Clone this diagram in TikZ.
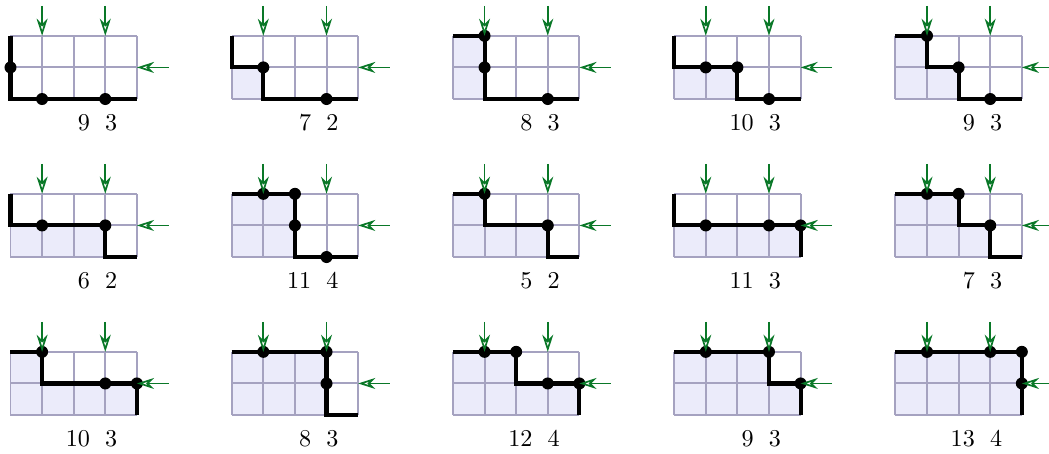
\documentclass[tikz,border=0pt]{standalone}
\usetikzlibrary{arrows.meta}
\definecolor{gridc}{RGB}{165,162,192}
\definecolor{fillc}{RGB}{235,235,250}
\definecolor{arrc}{RGB}{10,120,40}
\tikzset{
  gridline/.style={draw=gridc, line width=0.8pt},
  cellfill/.style={fill=fillc},
  pathline/.style={draw=black, line width=1.7pt, line join=miter},
  arr/.style={draw=arrc, line width=0.7pt, -{Stealth[open, fill=white, length=0.25cm, width=0.16cm, inset=0.08cm]}},
  lab/.style={inner sep=0pt, font=\normalsize},
  dotc/.style={fill=black}
}
\newcommand\pnl[7]{%
  \begin{scope}[shift={#1}]
    \fill[cellfill] #2;
    \draw[gridline] (0,0) grid[step=1] (4,2);
    \draw[pathline] #3;
    \foreach \p in {#4} \fill[dotc] \p circle (0.19);
    \coordinate (ta) at (1,2.95);
    \coordinate (tb) at (3,2.95);
    \coordinate (tc) at (5,1);
    \draw[arr] (ta) -- (1,2);
    \draw[arr] (tb) -- (3,2);
    \draw[arr] (tc) -- (4,1);
    \node[lab, anchor=base east] (n#7a) at (2.53,-1.0) {#5};
    \node[lab, anchor=base west] (n#7b) at (2.98,-1.0) {#6};
  \end{scope}}
\begin{document}
\begin{tikzpicture}[x=0.46cm, y=0.46cm]
\useasboundingbox (-0.332,-11.23) rectangle (32.86,3.133);
% row 1
\pnl{(0,0)}{}{(0,2)--(0,0)--(4,0)}{(0,1),(1,0),(3,0)}{9}{3}{1}
\pnl{(7,0)}{(0,0) rectangle (1,1)}{(0,2)--(0,1)--(1,1)--(1,0)--(4,0)}{(1,1),(3,0)}{7}{2}{2}
\pnl{(14,0)}{(0,0) rectangle (1,2)}{(0,2)--(1,2)--(1,0)--(4,0)}{(1,2),(1,1),(3,0)}{8}{3}{3}
\pnl{(21,0)}{(0,0) rectangle (2,1)}{(0,2)--(0,1)--(2,1)--(2,0)--(4,0)}{(1,1),(2,1),(3,0)}{10}{3}{4}
\pnl{(28,0)}{(0,0)--(0,2)--(1,2)--(1,1)--(2,1)--(2,0)--cycle}{(0,2)--(1,2)--(1,1)--(2,1)--(2,0)--(4,0)}{(1,2),(2,1),(3,0)}{9}{3}{5}
% row 2
\pnl{(0,-5)}{(0,0) rectangle (3,1)}{(0,2)--(0,1)--(3,1)--(3,0)--(4,0)}{(1,1),(3,1)}{6}{2}{6}
\pnl{(7,-5)}{(0,0) rectangle (2,2)}{(0,2)--(2,2)--(2,0)--(4,0)}{(1,2),(2,2),(2,1),(3,0)}{11}{4}{7}
\pnl{(14,-5)}{(0,0)--(0,2)--(1,2)--(1,1)--(3,1)--(3,0)--cycle}{(0,2)--(1,2)--(1,1)--(3,1)--(3,0)--(4,0)}{(1,2),(3,1)}{5}{2}{8}
\pnl{(21,-5)}{(0,0) rectangle (4,1)}{(0,2)--(0,1)--(4,1)--(4,0)}{(1,1),(3,1),(4,1)}{11}{3}{9}
\pnl{(28,-5)}{(0,0)--(0,2)--(2,2)--(2,1)--(3,1)--(3,0)--cycle}{(0,2)--(2,2)--(2,1)--(3,1)--(3,0)--(4,0)}{(1,2),(2,2),(3,1)}{7}{3}{10}
% row 3
\pnl{(0,-10)}{(0,0)--(0,2)--(1,2)--(1,1)--(4,1)--(4,0)--cycle}{(0,2)--(1,2)--(1,1)--(4,1)--(4,0)}{(1,2),(3,1),(4,1)}{10}{3}{11}
\pnl{(7,-10)}{(0,0) rectangle (3,2)}{(0,2)--(3,2)--(3,0)--(4,0)}{(1,2),(3,2),(3,1)}{8}{3}{12}
\pnl{(14,-10)}{(0,0)--(0,2)--(2,2)--(2,1)--(4,1)--(4,0)--cycle}{(0,2)--(2,2)--(2,1)--(4,1)--(4,0)}{(1,2),(2,2),(3,1),(4,1)}{12}{4}{13}
\pnl{(21,-10)}{(0,0)--(0,2)--(3,2)--(3,1)--(4,1)--(4,0)--cycle}{(0,2)--(3,2)--(3,1)--(4,1)--(4,0)}{(1,2),(3,2),(4,1)}{9}{3}{14}
\pnl{(28,-10)}{(0,0) rectangle (4,2)}{(0,2)--(4,2)--(4,0)}{(1,2),(3,2),(4,2),(4,1)}{13}{4}{15}
\end{tikzpicture}
\end{document}
